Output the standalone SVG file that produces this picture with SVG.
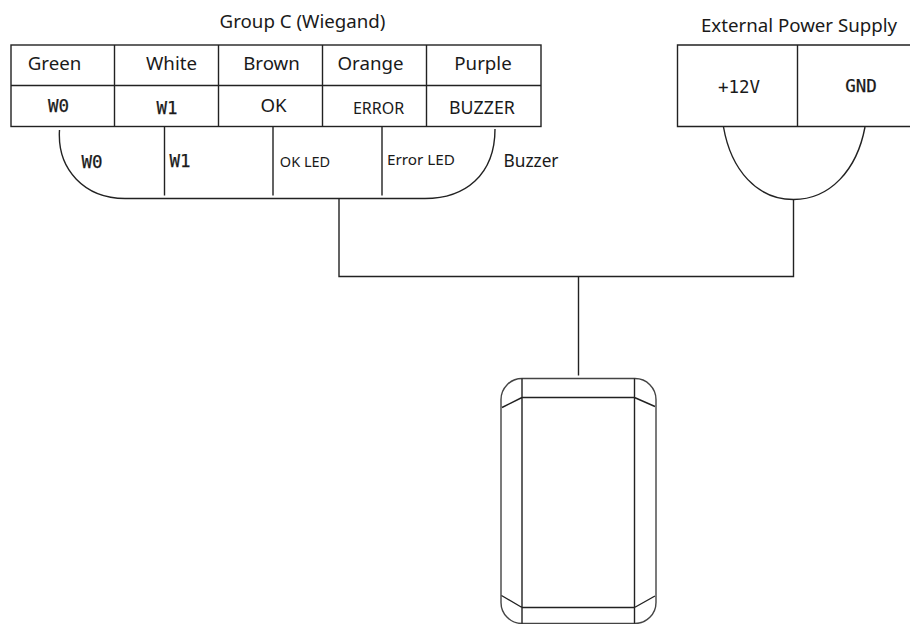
<svg xmlns="http://www.w3.org/2000/svg" width="910" height="624" viewBox="0 0 910 624">
<style>
.l{fill:none;stroke:#222;stroke-width:1.400}
text{font-family:"Noto Sans","Open Sans",sans-serif;fill:#1a1a1a;font-size:18.700px;text-anchor:middle}
.m{font-family:"DejaVu Sans Mono","Liberation Mono",monospace;font-size:17.500px;stroke:#1a1a1a;stroke-width:.25}
</style>
<rect width="910" height="624" fill="#fff"/>
<g id="group-c">
<rect class="l" x="11" y="45" width="530" height="81.500"/>
<path class="l" d="M11 85.500H541M114.500 45V126.500M218.500 45V126.500M322.500 45V126.500M426.500 45V126.500"/>
<text x="302.500" y="28">Group C (Wiegand)</text>
<text x="54.500" y="70">Green</text>
<text x="171.500" y="70">White</text>
<text x="271.500" y="70">Brown</text>
<text x="370.500" y="70">Orange</text>
<text x="483" y="70">Purple</text>
<text x="58.500" y="112" class="m">W0</text>
<text x="167" y="114" class="m">W1</text>
<text x="273.500" y="112">OK</text>
<text x="378.500" y="114" style="font-size:16px">ERROR</text>
<text x="482" y="114" style="font-size:17.800px">BUZZER</text>
</g>
<g id="wiegand-cable">
<path class="l" d="M59.500 130C57 170 85 198.500 125 198.500H425C465 198.500 495 175 495 129"/>
<path class="l" d="M164.500 127V195.500M273 127V195.500M382 127V195.500"/>
<text x="92" y="168" class="m">W0</text>
<text x="180" y="167" class="m">W1</text>
<text x="305" y="167" style="font-size:14.500px">OK LED</text>
<text x="421" y="165" style="font-size:15.300px">Error LED</text>
<text x="531" y="167" style="font-size:17.300px">Buzzer</text>
</g>
<g id="power-supply">
<path class="l" d="M910 45H677.500V126.500H910M797.500 45V126.500"/>
<text x="799" y="32">External Power Supply</text>
<text x="739" y="93" class="m" style="stroke:none">+12V</text>
<text x="861" y="92" class="m">GND</text>
<path class="l" d="M723.500 127C731 170 757 199.500 793.500 199.500C830 199.500 857 170 865 127"/>
</g>
<g id="connectors">
<path class="l" d="M339 198.500V276.500H793.500V199.500M578.500 276.500V375.500"/>
</g>
<g id="reader">
<rect class="l" x="501" y="378.500" width="155" height="245" rx="21" ry="21" style="stroke:#444"/>
<path class="l" d="M522 378.500V623.500M634.500 378.500V623.500M522 397.500H634.500M522 607.500H634.500M502 407.500L522 397.500M634.500 397.500L655 406.500M501.500 595.500L522 607.500M634.500 607.500L655 596"/>
</g>
</svg>
